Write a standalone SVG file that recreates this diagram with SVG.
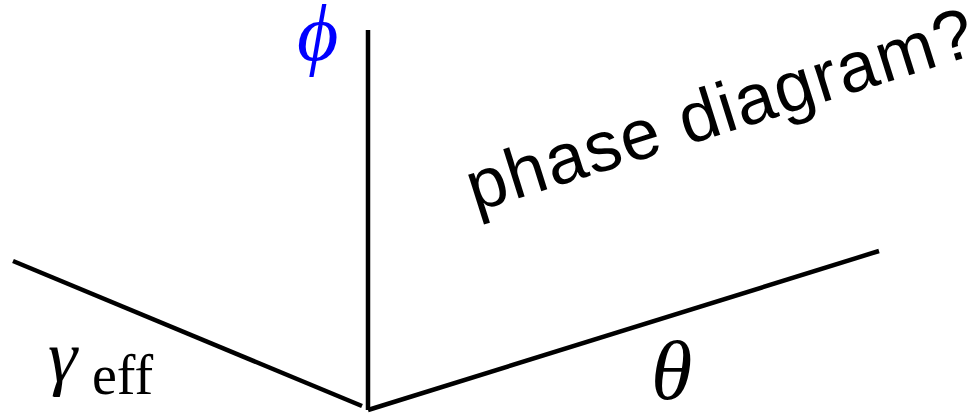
<svg xmlns="http://www.w3.org/2000/svg" width="969" height="414" viewBox="0 0 969 414">
<style>
.ax{stroke:#000;stroke-width:4.5;fill:none;stroke-linecap:butt}
.m{font-family:"Liberation Serif","DejaVu Serif",serif;font-style:italic}
.r{font-family:"Liberation Serif","DejaVu Serif",serif}
.s{font-family:"Liberation Sans",Arial,sans-serif}
</style>
<rect width="969" height="414" fill="#fff"/>
<g id="connectors">
<line class="ax" x1="368" y1="30" x2="368" y2="410"/>
<line class="ax" x1="13" y1="261" x2="362" y2="406"/>
<line class="ax" x1="368" y1="410" x2="879" y2="251"/>
</g>
<g id="phi"><text class="m" x="297" y="60" font-size="80" fill="#0000ff">ϕ</text></g>
<g id="gamma"><text class="m" x="48" y="381" font-size="74">γ</text><text class="r" x="92" y="394" font-size="56">eff</text></g>
<g id="theta"><text class="m" x="651" y="399" font-size="84">θ</text></g>
<g id="label"><text class="s" font-size="71" letter-spacing="1.5" transform="translate(475,212) rotate(-17.5)">phase diagram?</text></g>
</svg>
